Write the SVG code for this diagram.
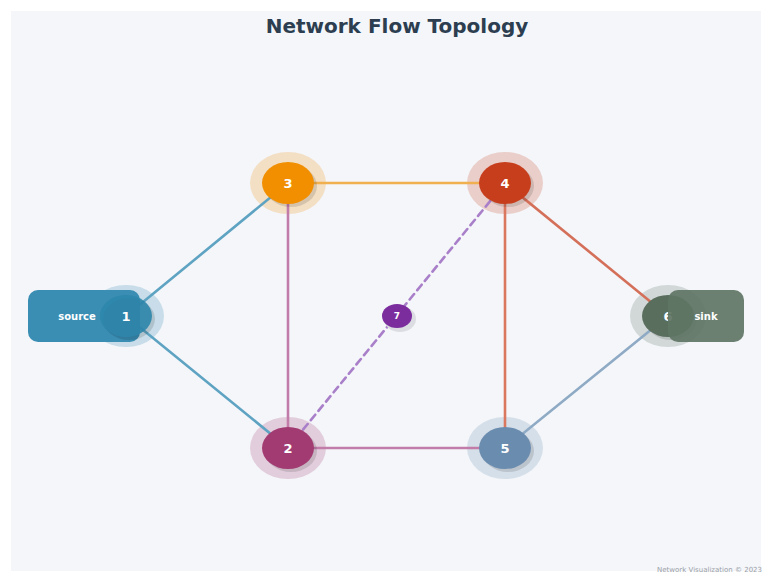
<svg xmlns="http://www.w3.org/2000/svg" width="769" height="578" viewBox="0 0 769 578">
  <style>
    .title { font-family: "DejaVu Sans", "Liberation Sans", sans-serif; font-weight: bold; font-size: 20px; fill: #2c3e50; text-anchor: middle; }
    .lbl { font-family: "DejaVu Sans", "Liberation Sans", sans-serif; font-weight: bold; font-size: 13px; fill: #ffffff; text-anchor: middle; dominant-baseline: central; }
    .tag { font-family: "DejaVu Sans", "Liberation Sans", sans-serif; font-weight: bold; font-size: 10px; fill: #ffffff; text-anchor: middle; dominant-baseline: central; }
    .foot { font-family: "DejaVu Sans", "Liberation Sans", sans-serif; font-size: 7px; fill: #9a9ea6; text-anchor: end; }
    .edge { stroke-width: 2.6; fill: none; stroke-linecap: round; }
    .halo { opacity: 0.22; }
    .shadow { fill: #000000; opacity: 0.12; }
  </style>

  <rect x="0" y="0" width="769" height="578" fill="#ffffff"/>
  <rect x="11" y="11" width="750" height="560" fill="#f4f6fa"/>

  <text class="title" x="397" y="33">Network Flow Topology</text>

  <!-- halos sit beneath the connectors -->
  <g id="halos">
    <ellipse class="halo" cx="126" cy="316" rx="38" ry="31" fill="#2e86ab"/>
    <ellipse class="halo" cx="288" cy="183" rx="38" ry="31" fill="#f18f01"/>
    <ellipse class="halo" cx="505" cy="183" rx="38" ry="31" fill="#c73e1d"/>
    <ellipse class="halo" cx="288" cy="448" rx="38" ry="31" fill="#a23b72"/>
    <ellipse class="halo" cx="505" cy="448" rx="38" ry="31" fill="#6a8caf"/>
    <ellipse class="halo" cx="668" cy="316" rx="38" ry="31" fill="#5a6e5e"/>
  </g>

  <g id="connectors">
    <line class="edge" x1="126" y1="316" x2="288" y2="183" stroke="#5ea3c2"/>
    <line class="edge" x1="126" y1="316" x2="288" y2="448" stroke="#5ea3c2"/>
    <line class="edge" x1="288" y1="183" x2="505" y2="183" stroke="#f1b04f"/>
    <line class="edge" x1="288" y1="183" x2="288" y2="448" stroke="#c27ca9"/>
    <line class="edge" x1="288" y1="448" x2="505" y2="448" stroke="#c27ca9"/>
    <line class="edge" x1="505" y1="183" x2="505" y2="448" stroke="#d9775f"/>
    <line class="edge" x1="505" y1="183" x2="668" y2="316" stroke="#d4705a"/>
    <line class="edge" x1="505" y1="448" x2="668" y2="316" stroke="#8eaac4"/>
    <line class="edge" x1="288" y1="448" x2="505" y2="183" stroke="#a97fc9" stroke-dasharray="7 5" stroke-width="2"/>
  </g>

  <g id="node-3">
    <ellipse class="shadow" cx="291" cy="186" rx="26" ry="21"/>
    <ellipse cx="288" cy="183" rx="26" ry="21" fill="#f18f01"/>
    <text class="lbl" x="288" y="183">3</text>
  </g>
  <g id="node-4">
    <ellipse class="shadow" cx="508" cy="186" rx="26" ry="21"/>
    <ellipse cx="505" cy="183" rx="26" ry="21" fill="#c73e1d"/>
    <text class="lbl" x="505" y="183">4</text>
  </g>
  <g id="node-2">
    <ellipse class="shadow" cx="291" cy="451" rx="26" ry="21"/>
    <ellipse cx="288" cy="448" rx="26" ry="21" fill="#a23b72"/>
    <text class="lbl" x="288" y="448">2</text>
  </g>
  <g id="node-5">
    <ellipse class="shadow" cx="508" cy="451" rx="26" ry="21"/>
    <ellipse cx="505" cy="448" rx="26" ry="21" fill="#6a8caf"/>
    <text class="lbl" x="505" y="448">5</text>
  </g>
  <g id="node-7">
    <ellipse cx="400" cy="319" rx="16" ry="13" fill="#dcdde2"/>
    <ellipse cx="397" cy="316" rx="15" ry="12" fill="#7b2d9e"/>
    <text class="lbl" x="397" y="316" style="font-size:9px">7</text>
  </g>

  <g id="node-1">
    <rect x="28" y="290" width="112" height="52" rx="10" fill="#3a8db3"/>
    <text class="tag" x="77" y="316">source</text>
    <ellipse class="shadow" cx="129" cy="319" rx="26" ry="21"/>
    <ellipse cx="126" cy="316" rx="26" ry="21" fill="#2e86ab" opacity="0.9"/>
    <text class="lbl" x="126" y="316">1</text>
  </g>

  <g id="node-6">
    <ellipse class="shadow" cx="671" cy="319" rx="26" ry="21"/>
    <ellipse cx="668" cy="316" rx="26" ry="21" fill="#5a6e5e"/>
    <text class="lbl" x="668" y="316">6</text>
    <rect x="668" y="290" width="76" height="52" rx="10" fill="#5f7565" opacity="0.92"/>
    <text class="tag" x="706" y="316">sink</text>
  </g>

  <text class="foot" x="762" y="572">Network Visualization © 2023</text>
</svg>
